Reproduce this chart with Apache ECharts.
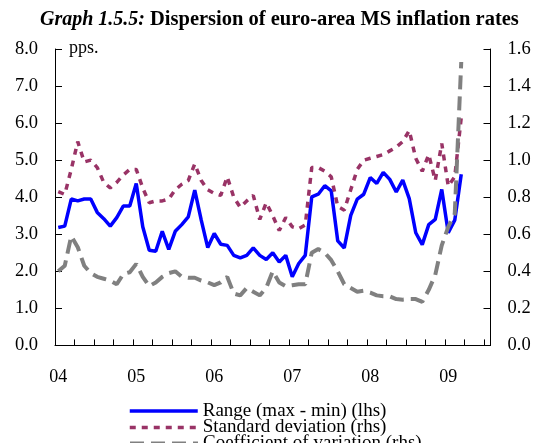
<!DOCTYPE html>
<html>
<head>
<meta charset="utf-8">
<script src="https://cdn.jsdelivr.net/npm/echarts@6/dist/echarts.min.js"></script>
<style>html,body{margin:0;padding:0;background:#fff}#c{width:535px;height:443px}</style>
</head>
<body>
<div id="c"></div>
<script>
// Monthly categories Jan 2004 - Jul 2009
var months = [
 '2004-01','2004-02','2004-03','2004-04','2004-05','2004-06','2004-07','2004-08','2004-09','2004-10','2004-11','2004-12',
 '2005-01','2005-02','2005-03','2005-04','2005-05','2005-06','2005-07','2005-08','2005-09','2005-10','2005-11','2005-12',
 '2006-01','2006-02','2006-03','2006-04','2006-05','2006-06','2006-07','2006-08','2006-09','2006-10','2006-11','2006-12',
 '2007-01','2007-02','2007-03','2007-04','2007-05','2007-06','2007-07','2007-08','2007-09','2007-10','2007-11','2007-12',
 '2008-01','2008-02','2008-03','2008-04','2008-05','2008-06','2008-07','2008-08','2008-09','2008-10','2008-11','2008-12',
 '2009-01','2009-02','2009-03','2009-04','2009-05','2009-06','2009-07'
];
var yearLabels = ['04','05','06','07','08','09'];
var seriesNames = ['Range (max - min) (lhs)','Standard deviation (rhs)','Coefficient of variation (rhs)'];

// Jan 2004 - Mar 2009
var rangeVals = [3.18,3.22,3.95,3.90,3.95,3.95,3.59,3.42,3.22,3.45,3.76,3.76,
 4.37,3.20,2.57,2.54,3.08,2.59,3.08,3.26,3.47,4.19,3.38,2.64,
 3.02,2.73,2.70,2.43,2.36,2.43,2.63,2.43,2.32,2.50,2.25,2.43,
 1.85,2.21,2.43,4.01,4.08,4.31,4.17,2.82,2.63,3.51,3.95,4.08,
 4.53,4.37,4.67,4.48,4.14,4.46,3.96,3.04,2.72,3.26,3.40,4.21,
 3.04,3.38,4.62];
var stdVals = [0.83,0.815,0.95,1.10,0.99,1.00,0.96,0.88,0.85,0.88,0.92,0.95,
 0.95,0.85,0.77,0.78,0.78,0.79,0.84,0.87,0.89,0.98,0.89,0.84,
 0.82,0.81,0.91,0.80,0.745,0.78,0.81,0.68,0.77,0.70,0.62,0.69,
 0.64,0.63,0.65,0.96,0.96,0.94,0.91,0.75,0.73,0.84,0.95,1.00,
 1.01,1.02,1.03,1.05,1.07,1.10,1.16,1.01,0.94,1.03,0.89,1.09,
 0.86,0.91,1.23];
var covVals = [0.40,0.43,0.59,0.53,0.43,0.39,0.37,0.36,0.35,0.33,0.385,0.395,
 0.44,0.37,0.32,0.34,0.37,0.39,0.40,0.37,0.365,0.365,0.35,0.34,
 0.325,0.34,0.37,0.28,0.27,0.31,0.29,0.27,0.31,0.40,0.34,0.32,
 0.325,0.33,0.33,0.50,0.52,0.50,0.46,0.40,0.33,0.31,0.29,0.295,
 0.285,0.27,0.265,0.265,0.25,0.247,0.25,0.25,0.235,0.30,0.38,0.54,
 0.64,0.71,1.53];

var FONT = 'Liberation Serif';
var chart = echarts.init(document.getElementById('c'), null, {renderer:'canvas'});
function yAxisOpt(pos, max, step){
  return {
    type:'value',min:0,max:max,interval:step,position:pos,
    axisLine:{show:true,lineStyle:{color:'#000',width:1}},
    axisTick:{show:true,inside:true,length:7,lineStyle:{color:'#000',width:1}},
    splitLine:{show:false},
    axisLabel:{color:'#000',fontFamily:FONT,fontSize:18.5,margin:17,
      formatter:function(v){return v.toFixed(1);}}
  };
}
function legendOpt(name, top){
  return {
    orient:'vertical',left:128,top:top,padding:0,
    itemWidth:68,itemHeight:4,itemGap:0,
    itemStyle:{opacity:0},
    lineStyle:{width:'inherit'},
    data:[name],
    textStyle:{fontFamily:FONT,fontSize:19,color:'#000',lineHeight:4}
  };
}
chart.setOption({
  animation:false,
  title:{
    text:'{i|Graph 1.5.5:} {b|Dispersion of euro-area MS inflation rates}',
    left:35, top:4,
    textStyle:{rich:{
      i:{fontFamily:FONT,fontStyle:'italic',fontSize:20,color:'#000'},
      b:{fontFamily:FONT,fontWeight:'bold',fontSize:20.5,color:'#000'}
    }}
  },
  graphic:[{type:'text',left:69,top:39,style:{text:'pps.',font:'18px "Liberation Serif"',fill:'#000'}}],
  grid:{left:55,right:44.5,top:49,bottom:97.6,containLabel:false},
  legend:[
    legendOpt(seriesNames[0],401.5),
    legendOpt(seriesNames[1],417.9),
    legendOpt(seriesNames[2],434)
  ],
  xAxis:{
    type:'category',data:months,boundaryGap:true,
    axisLine:{show:true,lineStyle:{color:'#000',width:1}},
    axisTick:{show:true,inside:true,length:6,interval:2,lineStyle:{color:'#000'}},
    axisLabel:{interval:11,color:'#000',fontFamily:FONT,fontSize:18,margin:23,
      formatter:function(v,idx){return yearLabels[Math.floor(idx/12)];}},
    splitLine:{show:false}
  },
  yAxis:[ yAxisOpt('left',8,1), yAxisOpt('right',1.6,0.2) ],
  series:[
    {name:seriesNames[0],type:'line',yAxisIndex:0,data:rangeVals,symbol:'none',
     lineStyle:{color:'#0000ff',width:3.5},itemStyle:{color:'#0000ff'}},
    {name:seriesNames[1],type:'line',yAxisIndex:1,data:stdVals,symbol:'none',
     lineStyle:{color:'#993366',width:3.5,type:[6,6]},itemStyle:{color:'#993366'}},
    {name:seriesNames[2],type:'line',yAxisIndex:1,data:covVals,symbol:'none',
     lineStyle:{color:'#808080',width:4,type:[14,7]},itemStyle:{color:'#808080'}}
  ]
});
</script>
</body>
</html>
